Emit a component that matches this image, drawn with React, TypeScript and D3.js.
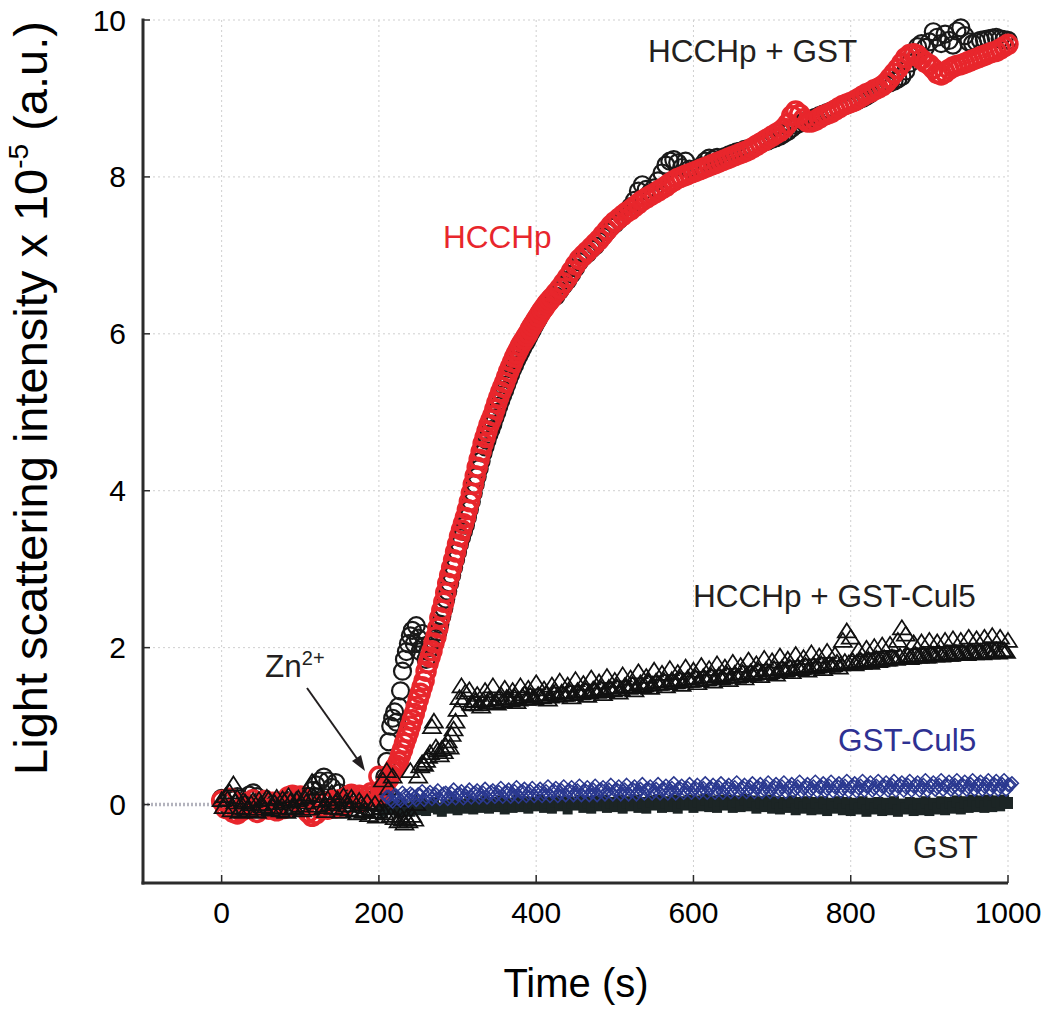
import React from 'react';
import * as d3 from 'd3';

const W = 1050;
const H = 1016;

const xTicks = [0, 200, 400, 600, 800, 1000];
const yTicks = [0, 2, 4, 6, 8, 10];

// ---- HCCHp (red circles) ----
const hcchpBaseStart = 0, hcchpBaseStep = 5;
const hcchpBase = [0.05,-0.05,0.08,-0.10,-0.12,-0.08,0.02,-0.05,0.06,-0.10,-0.04,0.05,-0.06,0.03,-0.08,0.02,-0.05,0.10,0.12,0.06,0.11,-0.02,-0.10,-0.15,-0.12,-0.05,0.02,-0.06,0.05,-0.04,0.06,-0.02,0.10,0.13,0.08,0.12,0.04,0.10,0.15,0.12,0.36];
const hcchpRiseStart = 202.5, hcchpRiseStep = 2.5;
const hcchpRise = [0.18,0.15,0.22,0.30,0.33,0.38,0.42,0.46,0.50,0.55,0.63,0.70,0.78,0.85,0.92,1.00,1.08,1.16,1.25,1.34,1.42,1.50,1.58,1.70,1.80,1.88,1.96,2.06,2.14,2.25,2.38,2.48,2.58,2.70,2.82,2.92,3.02,3.12,3.22,3.32,3.42,3.50,3.58,3.66,3.76,3.86,3.97,4.08,4.19,4.30,4.40,4.50,4.60,4.68,4.76,4.84,4.90,4.96,5.04,5.12,5.19,5.26,5.32,5.38,5.45,5.52,5.58,5.64,5.70,5.75,5.80,5.85,5.89,5.93,5.97,6.01,6.06,6.10,6.14,6.18,6.22,6.26,6.30,6.33,6.37,6.40,6.43,6.46];
const hcchpLateStart = 425, hcchpLateStep = 5;
const hcchpLate = [6.52,6.58,6.65,6.72,6.80,6.88,6.95,7.00,7.05,7.10,
7.15,7.20,7.26,7.32,7.38,7.43,7.47,7.51,7.55,7.58,
7.62,7.66,7.70,7.73,7.76,7.79,7.82,7.85,7.88,7.92,
7.95,7.98,8.00,8.02,8.04,8.06,8.08,8.10,8.12,8.14,
8.16,8.18,8.20,8.22,8.24,8.26,8.28,8.30,8.32,8.34,
8.37,8.40,8.43,8.46,8.49,8.52,8.55,8.58,8.62,8.68,
8.78,8.84,8.80,8.74,8.70,8.70,8.72,8.75,8.78,8.80,
8.82,8.85,8.88,8.91,8.93,8.95,8.97,9.00,9.03,9.06,
9.08,9.11,9.13,9.16,9.20,9.26,9.32,9.38,9.45,9.52,
9.56,9.57,9.55,9.50,9.46,9.43,9.38,9.32,9.30,9.33,
9.37,9.40,9.42,9.43,9.45,9.47,9.49,9.51,9.53,9.55,
9.57,9.59,9.60,9.63,9.66,9.69];

// ---- HCCHp + GST (black circles) ----
const hgBaseStart = 0, hgBaseStep = 5;
const hgBase = [0.08,0.02,-0.05,0.06,0.10,-0.04,0.00,0.12,0.15,0.10,0.05,-0.03,0.02,-0.06,0.04,-0.02,0.06,0.03,-0.04,0.05,0.02,0.08,0.10,0.18,0.25,0.30,0.35,0.30,0.22,0.28,0.15,0.08,0.02,-0.04,0.05,0.00,0.06,-0.03,0.04,0.08,0.10];
const hgRiseStart = 202.5, hgRiseStep = 2.5;
const hgRise = [0.10,0.20,0.35,0.55,0.80,1.00,1.10,1.18,1.05,1.25,1.45,1.70,1.85,1.95,2.05,2.15,2.22,2.05,2.28,2.12,1.95,2.18,2.02,1.85,1.95,2.05,2.00,2.08,2.12,2.20,2.30,2.40,2.50,2.62,2.72,2.82,2.92,3.02,3.12,3.22,3.32,3.40,3.48,3.56,3.66,3.76,3.86,3.97,4.08,4.18,4.28,4.38,4.48,4.56,4.64,4.72,4.78,4.85,4.93,5.00,5.08,5.15,5.22,5.28,5.35,5.42,5.48,5.55,5.60,5.66,5.71,5.76,5.81,5.86,5.90,5.95,6.00,6.05,6.10,6.14,6.19,6.24,6.28,6.31,6.35,6.39,6.42,6.45];
const hgLateStart = 425, hgLateStep = 5;
const hgLate = [6.48,6.55,6.62,6.68,6.76,6.84,6.92,6.98,7.02,7.08,
7.12,7.18,7.24,7.30,7.36,7.40,7.45,7.50,7.55,7.62,
7.70,7.82,7.90,7.84,7.80,7.86,7.95,8.05,8.15,8.20,
8.22,8.18,8.12,8.20,8.10,8.08,8.10,8.14,8.20,8.24,
8.22,8.25,8.23,8.26,8.28,8.30,8.32,8.33,8.35,8.36,
8.38,8.40,8.42,8.45,8.46,8.48,8.50,8.52,8.55,8.58,
8.62,8.66,8.68,8.70,8.72,8.74,8.76,8.78,8.80,8.82,
8.84,8.86,8.88,8.90,8.92,8.94,8.96,8.98,9.00,9.03,
9.06,9.10,9.13,9.16,9.18,9.20,9.22,9.25,9.28,9.35,
9.45,9.58,9.66,9.70,9.65,9.72,9.85,9.78,9.70,9.82,
9.74,9.68,9.86,9.90,9.80,9.72,9.70,9.72,9.74,9.75,
9.76,9.77,9.78,9.76,9.75,9.74];

// ---- HCCHp + GST-Cul5 (black triangles) ----
const hcBaseStart = 0, hcBaseStep = 5;
const hcBase = [0.05,0.10,0.15,0.25,0.08,-0.05,0.02,-0.08,0.04,-0.10,0.00,-0.06,0.06,-0.04,0.08,-0.08,0.03,0.10,-0.06,0.05,-0.02,0.08,0.12,0.28,0.20,0.10,-0.04,0.06,0.14,0.02,-0.06,0.10,-0.02,0.08,-0.08,0.04,-0.10,0.02,-0.06,0.00,-0.10];
const hcBaseBStart = 2.5, hcBaseBStep = 5;
const hcBaseB = [-0.04,0.06,-0.08,0.02,-0.10,0.04,-0.06,0.00,-0.09,0.05,
-0.03,0.08,-0.07,0.01,-0.05,0.06,-0.10,0.03,-0.04,0.07,
-0.08,0.02,-0.06,0.10,-0.02,0.04,-0.09,0.00,-0.05,0.06,
-0.10,0.02,-0.07,0.04,-0.12,0.00,-0.08,-0.14,-0.10,-0.16];
const hcRiseStart = 202.5, hcRiseStep = 2.5;
const hcRise = [-0.05,0.30,-0.12,0.42,0.20,-0.15,0.35,-0.18,0.05,-0.22,-0.15,-0.20,-0.25,-0.18,-0.22,0.42,-0.15,-0.20,0.00,0.35,0.48,0.52,0.50,0.55,0.60,0.65,0.98,1.05,0.72,0.68,0.62,0.70,0.66,0.74,0.80,0.72,0.88,0.95,1.05,1.20,1.35,1.50,1.32,1.42];
const hcLateStart = 315, hcLateStep = 5;
const hcLate = [1.45,1.27,1.39,1.24,1.44,1.33,1.50,1.28,1.39,1.47,
1.34,1.44,1.30,1.50,1.40,1.47,1.34,1.54,1.37,1.46,
1.33,1.51,1.43,1.56,1.39,1.51,1.36,1.58,1.41,1.53,
1.38,1.60,1.45,1.55,1.40,1.62,1.46,1.57,1.42,1.64,
1.49,1.60,1.45,1.68,1.50,1.62,1.48,1.70,1.53,1.66,
1.50,1.72,1.55,1.67,1.52,1.74,1.57,1.70,1.54,1.76,
1.59,1.72,1.56,1.78,1.60,1.74,1.58,1.80,1.62,1.76,
1.60,1.83,1.65,1.78,1.63,1.85,1.67,1.82,1.65,1.88,
1.70,1.84,1.68,1.90,1.72,1.86,1.70,1.92,1.74,1.88,
1.72,1.94,1.76,1.90,1.74,2.08,2.20,2.12,1.78,1.96,
1.80,1.98,1.80,2.00,1.82,2.02,1.84,2.03,1.86,2.08,
2.24,2.16,1.86,2.05,1.88,2.06,1.88,2.08,1.90,2.06,
1.89,2.08,1.90,2.10,1.92,2.08,1.92,2.12,1.93,2.10,
1.94,2.12,1.94,2.14,1.96,2.12,1.96,2.08];
const hcLateBStart = 317.5, hcLateBStep = 5;
const hcLateB = [1.28,1.31,1.27,1.32,1.29,1.33,1.30,1.34,1.31,1.35,
1.32,1.36,1.33,1.37,1.34,1.38,1.35,1.39,1.36,1.40,
1.37,1.41,1.38,1.42,1.39,1.43,1.40,1.44,1.41,1.45,
1.42,1.46,1.43,1.47,1.44,1.48,1.45,1.49,1.46,1.50,
1.48,1.52,1.49,1.54,1.51,1.55,1.52,1.56,1.53,1.57,
1.54,1.58,1.55,1.59,1.56,1.60,1.57,1.61,1.58,1.62,
1.59,1.63,1.60,1.64,1.61,1.65,1.62,1.66,1.63,1.67,
1.64,1.68,1.66,1.70,1.67,1.71,1.68,1.72,1.69,1.73,
1.70,1.74,1.72,1.75,1.73,1.76,1.74,1.77,1.75,1.78,
1.76,1.79,1.77,1.80,1.78,1.81,1.79,1.82,1.80,1.83,
1.81,1.84,1.82,1.85,1.83,1.86,1.84,1.87,1.85,1.88,
1.86,1.89,1.87,1.90,1.88,1.90,1.88,1.91,1.89,1.92,
1.90,1.92,1.90,1.93,1.91,1.93,1.91,1.94,1.92,1.94,
1.92,1.95,1.93,1.95,1.93,1.96,1.94];

// ---- GST-Cul5 (blue diamonds) ----
const gcStart = 210, gcStep = 5;
const gcValues = [0.10,0.06,0.12,0.07,0.15,0.10,0.14,0.09,0.13,0.17,
0.10,0.16,0.11,0.18,0.12,0.15,0.10,0.19,0.13,0.17,
0.11,0.19,0.14,0.18,0.12,0.20,0.14,0.18,0.13,0.21,
0.15,0.19,0.13,0.22,0.16,0.20,0.14,0.21,0.15,0.20,
0.14,0.23,0.16,0.21,0.15,0.23,0.17,0.22,0.15,0.24,
0.17,0.22,0.16,0.24,0.18,0.22,0.16,0.25,0.18,0.23,
0.17,0.25,0.18,0.23,0.17,0.26,0.19,0.23,0.17,0.26,
0.19,0.24,0.18,0.27,0.20,0.24,0.18,0.26,0.19,0.25,
0.18,0.27,0.20,0.25,0.18,0.27,0.20,0.25,0.19,0.28,
0.20,0.25,0.19,0.27,0.21,0.26,0.19,0.28,0.20,0.26,
0.19,0.28,0.21,0.26,0.20,0.29,0.21,0.26,0.20,0.29,
0.22,0.27,0.20,0.29,0.22,0.27,0.20,0.30,0.22,0.27,
0.21,0.30,0.23,0.28,0.21,0.30,0.23,0.28,0.21,0.30,
0.23,0.28,0.22,0.30,0.23,0.28,0.22,0.31,0.23,0.28,
0.22,0.31,0.24,0.29,0.22,0.31,0.24,0.29,0.22,0.31,
0.24,0.29,0.23,0.31,0.24,0.30,0.23,0.31,0.25,0.27];
const gcBStart = 212.5, gcBStep = 5;
const gcValuesB = [0.10,0.04,0.11,0.05,0.11,0.05,0.12,0.06,0.12,0.06,
0.13,0.07,0.13,0.07,0.14,0.07,0.14,0.08,0.14,0.08,
0.15,0.09,0.15,0.09,0.15,0.09,0.16,0.10,0.16,0.10,
0.16,0.10,0.17,0.10,0.17,0.11,0.17,0.11,0.17,0.11,
0.17,0.11,0.18,0.11,0.18,0.12,0.18,0.12,0.18,0.12,
0.18,0.12,0.19,0.12,0.19,0.13,0.19,0.13,0.19,0.13,
0.19,0.13,0.20,0.13,0.20,0.14,0.20,0.14,0.20,0.14,
0.20,0.14,0.21,0.14,0.21,0.15,0.21,0.15,0.21,0.15,
0.21,0.15,0.21,0.15,0.22,0.15,0.22,0.16,0.22,0.16,
0.22,0.16,0.22,0.16,0.22,0.16,0.23,0.16,0.23,0.16,
0.23,0.16,0.23,0.17,0.23,0.17,0.23,0.17,0.23,0.17,
0.23,0.17,0.24,0.17,0.24,0.17,0.24,0.17,0.24,0.17,
0.24,0.18,0.24,0.18,0.24,0.18,0.24,0.18,0.25,0.18,
0.25,0.18,0.25,0.18,0.25,0.18,0.25,0.18,0.25,0.19,
0.25,0.19,0.25,0.19,0.25,0.19,0.25,0.19,0.26,0.19,
0.26,0.19,0.26,0.19,0.26,0.19,0.26,0.19,0.25];

// ---- GST (dark markers) ----
const gstStart = 200, gstStep = 5;
const gstValues = [-0.02,-0.08,0.01,-0.06,-0.03,-0.09,0.00,-0.05,-0.08,-0.01,
-0.06,0.01,-0.07,-0.03,0.02,-0.05,-0.08,-0.01,-0.04,0.02,
-0.06,0.00,-0.04,0.03,-0.05,0.01,-0.03,0.04,-0.04,0.02,
-0.02,0.04,-0.05,0.01,-0.03,0.05,-0.02,0.03,-0.04,0.02,
-0.01,0.05,-0.03,0.02,-0.04,0.04,-0.01,0.03,-0.05,0.02,
0.00,0.05,-0.03,0.03,-0.04,0.04,-0.01,0.05,-0.03,0.02,
-0.02,0.05,-0.04,0.03,-0.01,0.05,-0.03,0.02,-0.04,0.04,
0.00,0.05,-0.03,0.03,-0.02,0.05,-0.04,0.03,0.00,0.05,
-0.03,0.04,-0.01,0.06,-0.02,0.04,-0.03,0.05,0.00,0.05,
-0.03,0.04,-0.02,0.06,-0.01,0.04,-0.04,0.03,-0.02,0.05,
-0.04,0.03,-0.05,0.02,-0.03,0.04,-0.06,0.02,-0.04,0.03,
-0.06,0.02,-0.05,0.03,-0.07,0.01,-0.04,0.03,-0.06,0.02,
-0.07,0.01,-0.05,0.03,-0.08,0.01,-0.05,0.02,-0.07,0.01,
-0.06,0.03,-0.08,0.00,-0.05,0.02,-0.07,0.01,-0.06,0.03,
-0.07,0.01,-0.05,0.03,-0.06,0.02,-0.04,0.04,-0.05,0.03,
-0.03,0.05,-0.02,0.04,-0.03,0.05,-0.02,0.04,-0.01,0.05,
0.02];

type Pt = [number, number];
const seg = (start: number, step: number, vals: number[]): Pt[] =>
  vals.map((v, i) => [start + i * step, v]);

const redPts = [
  ...seg(hcchpBaseStart, hcchpBaseStep, hcchpBase),
  ...seg(hcchpRiseStart, hcchpRiseStep, hcchpRise),
  ...seg(hcchpLateStart, hcchpLateStep, hcchpLate),
];
const blackPts = [
  ...seg(hgBaseStart, hgBaseStep, hgBase),
  ...seg(hgRiseStart, hgRiseStep, hgRise),
  ...seg(hgLateStart, hgLateStep, hgLate),
];
const triPts = [
  ...seg(hcBaseStart, hcBaseStep, hcBase),
  ...seg(hcBaseBStart, hcBaseBStep, hcBaseB),
  ...seg(hcRiseStart, hcRiseStep, hcRise),
  ...seg(hcLateBStart, hcLateBStep, hcLateB),
  ...seg(hcLateStart, hcLateStep, hcLate),
];
const bluePts = [
  ...seg(gcBStart, gcBStep, gcValuesB),
  ...seg(gcStart, gcStep, gcValues),
];
const gstPts = seg(gstStart, gstStep, gstValues);

const FONT = "'Liberation Sans', Arial, Helvetica, sans-serif";
const RED = '#e8262c';
const BLUE = '#2e3192';
const INK = '#231f20';

export default function App() {
  const x = d3.scaleLinear().domain([-100, 1000]).range([143, 1008]);
  const y = d3.scaleLinear().domain([-1, 10]).range([883, 20]);
  const [x0, x1] = x.range();
  const [y0, y1] = y.range();

  const triPath = (cx: number, cy: number) =>
    `M${cx},${cy - 8.5}L${cx + 9},${cy + 5.5}L${cx - 9},${cy + 5.5}Z`;
  const diaPath = (cx: number, cy: number) =>
    `M${cx},${cy - 6.5}L${cx + 6.5},${cy}L${cx},${cy + 6.5}L${cx - 6.5},${cy}Z`;

  return (
    <svg width={W} height={H} style={{ position: 'absolute', left: 0, top: 0, display: 'block', background: '#fff' }}
      fontFamily={FONT}>
      <rect x={0} y={0} width={W} height={H} fill="#fff" />
      {/* grid */}
      <g stroke="#cfcfcf" strokeWidth={1} strokeDasharray="2,3" fill="none">
        {xTicks.map(t => <line key={'gx' + t} x1={x(t)} x2={x(t)} y1={y1} y2={y0} />)}
        {yTicks.filter(t => t !== 0).map(t => <line key={'gy' + t} x1={x0} x2={x1} y1={y(t)} y2={y(t)} />)}
      </g>
      <line x1={x0} x2={x1} y1={y(0)} y2={y(0)} stroke="#b3b3bd" strokeWidth={3.5} strokeDasharray="2,2" />

      {/* GST */}
      <g fill="#1c2525">
        {gstPts.map(([t, v], i) => <rect key={'g' + i} x={x(t) - 5} y={y(v) - 6} width={10} height={12} />)}
      </g>
      {/* HCCHp + GST black circles */}
      <g fill="none" stroke="#1a1a1a" strokeWidth={2.2}>
        {blackPts.map(([t, v], i) => <circle key={'b' + i} cx={x(t)} cy={y(v)} r={8.5} />)}
      </g>
      {/* HCCHp red circles */}
      <g fill="none" stroke={RED} strokeWidth={3.5}>
        {redPts.map(([t, v], i) => <circle key={'r' + i} cx={x(t)} cy={y(v)} r={9} />)}
      </g>
      {/* HCCHp + GST-Cul5 triangles */}
      <g fill="none" stroke="#111" strokeWidth={1.7}>
        {triPts.map(([t, v], i) => <path key={'t' + i} d={triPath(x(t), y(v))} />)}
      </g>
      {/* GST-Cul5 diamonds */}
      <g fill="none" stroke="#2b3990" strokeWidth={1.5}>
        {bluePts.map(([t, v], i) => <path key={'d' + i} d={diaPath(x(t), y(v))} />)}
      </g>

      {/* axes */}
      <g stroke="#2b2b2b" strokeWidth={3} fill="none">
        <line x1={x0} x2={x0} y1={y1 - 1.5} y2={y0 + 1.5} />
        <line x1={x0 - 1.5} x2={x1} y1={y0} y2={y0} />
      </g>
      <g stroke="#2b2b2b" strokeWidth={1.5}>
        {yTicks.map(t => <line key={'ty' + t} x1={x0} x2={x0 + 7} y1={y(t)} y2={y(t)} />)}
        {xTicks.map(t => <line key={'tx' + t} x1={x(t)} x2={x(t)} y1={y0} y2={y0 - 8} />)}
      </g>
      <g fontSize={30} fill="#000">
        {yTicks.map(t => (
          <text key={'ly' + t} x={126} y={y(t) + 10.5} textAnchor="end">{t}</text>
        ))}
        {xTicks.map(t => (
          <text key={'lx' + t} x={x(t)} y={923} textAnchor="middle">{t}</text>
        ))}
      </g>
      <text x={576} y={997} fontSize={40} textAnchor="middle" fill="#000">Time (s)</text>
      <text transform="translate(47,398) rotate(-90)" fontSize={47} textAnchor="middle" fill="#000">
        Light scattering intensity x 10<tspan fontSize={28} dy={-19}>-5</tspan><tspan dy={19}> (a.u.)</tspan>
      </text>

      {/* annotations */}
      <g fontSize={31.5}>
        <text x={648} y={62} fill={INK}>HCCHp + GST</text>
        <text x={443} y={248} fill={RED}>HCCHp</text>
        <text x={693} y={607} fill={INK}>HCCHp + GST-Cul5</text>
        <text x={838} y={751} fill={BLUE}>GST-Cul5</text>
        <text x={913} y={858} fill={INK}>GST</text>
        <text x={265} y={677} fill={INK}>Zn<tspan fontSize={20} dy={-12}>2+</tspan></text>
      </g>
      <line x1={307} y1={688} x2={358} y2={760} stroke={INK} strokeWidth={2} />
      <path d="M365,771 L352,761 L361,755 Z" fill={INK} />
    </svg>
  );
}
